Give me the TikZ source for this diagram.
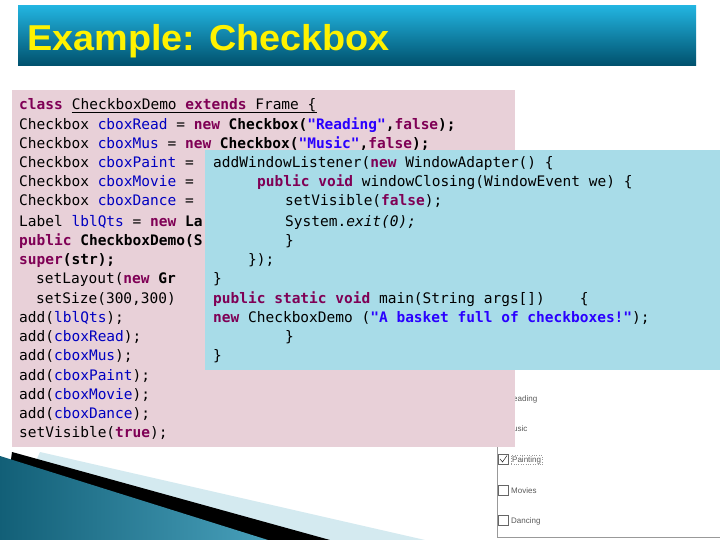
\documentclass[tikz,border=0pt]{standalone}
\usepackage{fontspec}
\setmainfont{Liberation Sans}
\newfontfamily\codefont{DejaVu Sans Mono}
\definecolor{kwc}{HTML}{7F0055}
\definecolor{vrc}{HTML}{0000C0}
\definecolor{stc}{HTML}{2A00FF}
\definecolor{pinkbg}{HTML}{E8D0D8}
\definecolor{bluebg}{HTML}{A8DCE8}
\definecolor{ttop}{HTML}{22B4E0}
\definecolor{tbot}{HTML}{00506C}
\definecolor{teal}{HTML}{1A88AA}
\definecolor{lteal}{HTML}{D4EAF0}
\newcommand{\kw}[1]{\textcolor{kwc}{\bfseries #1}}
\newcommand{\vr}[1]{\textcolor{vrc}{#1}}
\newcommand{\st}[1]{\textcolor{stc}{\bfseries #1}}
\begin{document}
\begin{tikzpicture}[x=1pt,y=-1pt,
  cl/.style={anchor=base west,inner sep=0pt,font=\codefont\fontsize{14.5}{16}\selectfont},
  wl/.style={anchor=base west,inner sep=0pt,font=\fontsize{8}{9}\selectfont,text=black!65}]
\useasboundingbox (0,0) rectangle (720,540);
\fill[white] (0,0) rectangle (720,540);
% title
\shade[top color=ttop,bottom color=tbot] (18,6) rectangle (696,66);
\node (title) [anchor=base west,inner sep=0pt,text=yellow,font=\bfseries\fontsize{36}{38}\selectfont,xscale=1.05] at (27,51) {Example: Checkbox};
% decoration
\fill[lteal] (40,452) -- (425,540) -- (0,540) -- cycle;
\fill[black] (12,452) -- (330,540) -- (0,540) -- cycle;
\shade[left color=teal!70!black,right color=teal!80] (0,456) -- (268,540) -- (0,540) -- cycle;
% window screenshot
\fill[white] (496,370) rectangle (720,540);
\draw[black!40] (497,370) -- (497,537) -- (720,537);
\node (wr) [wl] at (513,401) {eading};
\node (wm) [wl] at (513,431) {usic};
\draw[black!60,fill=white] (498,454) rectangle (508,464);
\draw[black] (500,459) -- (502.5,462) -- (507,455.5);
\node (wp) [wl,draw=black!40,dotted,inner sep=1pt] at (511,462) {Painting};
\draw[black!60,fill=white] (498,485) rectangle (508,495);
\node (wmo) [wl] at (511,493) {Movies};
\draw[black!60,fill=white] (498,515) rectangle (508,525);
\node (wd) [wl] at (511,523) {Dancing};
% pink code box
\fill[pinkbg] (12,90) rectangle (515,447);
\node (p1a) [cl] at (19,110) {\kw{class} };
\node (p1) [cl] at (p1a.base east) {\ CheckboxDemo \kw{extends} Frame \{};
\draw[black,line width=0.8pt] ([xshift=8.7pt,yshift=-2pt]p1.base west) -- ([yshift=-2pt]p1.base east);
\node (p2) [cl] at (19,130) {Checkbox \vr{cboxRead} = \kw{new} \textbf{Checkbox(}\st{"Reading"}\textbf{,}\kw{false}\textbf{);}};
\node (p3) [cl] at (19,149) {Checkbox \vr{cboxMus} = \kw{new} \textbf{Checkbox(}\st{"Music"}\textbf{,}\kw{false}\textbf{);}};
\node (p4) [cl] at (19,168) {Checkbox \vr{cboxPaint} =};
\node (p5) [cl] at (19,187) {Checkbox \vr{cboxMovie} =};
\node (p6) [cl] at (19,206) {Checkbox \vr{cboxDance} =};
\node (p7) [cl] at (19,226) {Label \vr{lblQts} = \kw{new} \textbf{La}};
\node (p8) [cl] at (19,245) {\kw{public} \textbf{CheckboxDemo(S}};
\node (p9) [cl] at (19,264) {\kw{super}\textbf{(str);}};
\node (p10) [cl] at (36,283) {setLayout(\kw{new} \textbf{Gr}};
\node (p11) [cl] at (36,303) {setSize(300,300)};
\node (p12) [cl] at (19,322) {add(\vr{lblQts});};
\node (p13) [cl] at (19,341) {add(\vr{cboxRead});};
\node (p14) [cl] at (19,360) {add(\vr{cboxMus});};
\node (p15) [cl] at (19,380) {add(\vr{cboxPaint});};
\node (p16) [cl] at (19,399) {add(\vr{cboxMovie});};
\node (p17) [cl] at (19,418) {add(\vr{cboxDance});};
\node (p18) [cl] at (19,437) {setVisible(\kw{true});};
% blue code box
\fill[bluebg] (205,150) rectangle (720,370);
\node (b1) [cl] at (213,168) {addWindowListener(\kw{new} WindowAdapter() \{};
\node (b2) [cl] at (257,187) {\kw{public void} windowClosing(WindowEvent we) \{};
\node (b3) [cl] at (285,206) {setVisible(\kw{false});};
\node (b4) [cl] at (285,226) {System.\textit{exit(0);}};
\node (b5) [cl] at (285,245) {\}};
\node (b6) [cl] at (248,264) {\});};
\node (b7) [cl] at (213,283) {\}};
\node (b8) [cl] at (213,303) {\kw{public static void} main(String args[])\ \ \ \ \{};
\node (b9) [cl] at (213,322) {\kw{new} CheckboxDemo (\st{"A basket full of checkboxes!"});};
\node (b10) [cl] at (285,341) {\}};
\node (b11) [cl] at (213,360) {\}};
\end{tikzpicture}
\end{document}
